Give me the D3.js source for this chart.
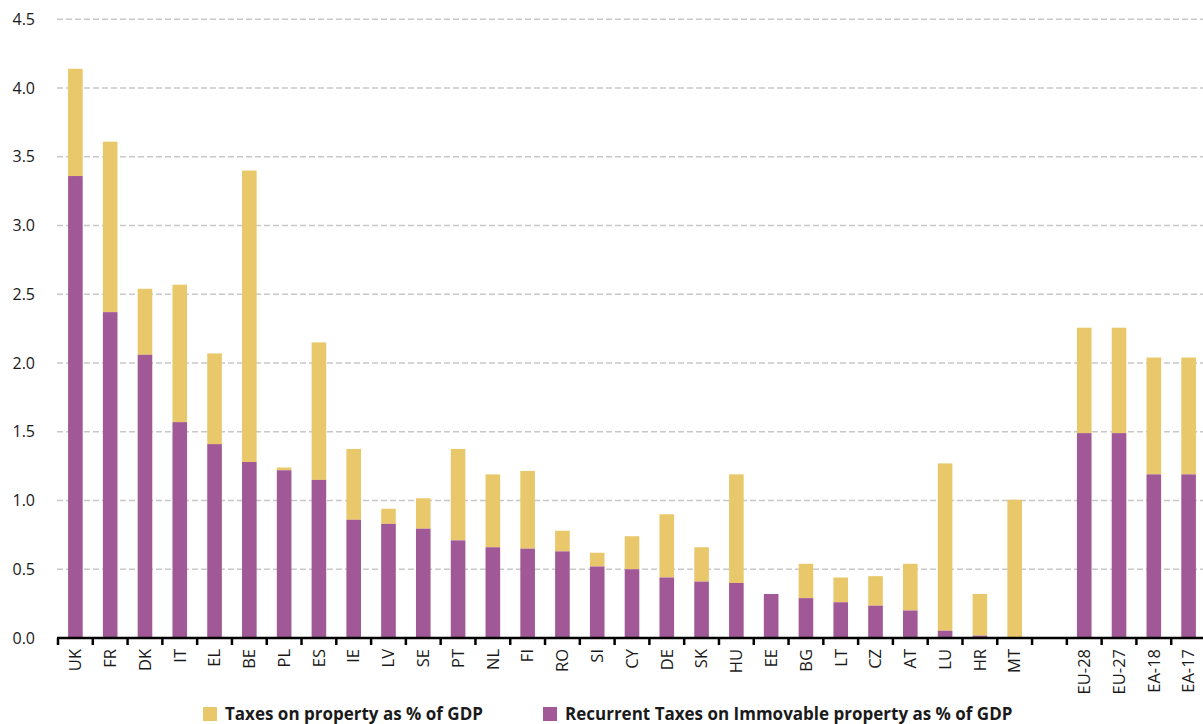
<!DOCTYPE html>
<html>
<head>
<meta charset="utf-8">
<script src="https://cdn.jsdelivr.net/npm/d3@7"></script>
<style>
  body { margin: 0; background: #fff; }
  text { font-family: "Open Sans", "Liberation Sans", sans-serif; fill: #1a1a1a; }
</style>
</head>
<body>
<div id="chart"></div>
<script>
// categories (blank slot separates countries from aggregates)
var countries = ["UK","FR","DK","IT","EL","BE","PL","ES","IE","LV","SE","PT","NL","FI","RO","SI","CY","DE","SK","HU","EE","BG","LT","CZ","AT","LU","HR","MT"," ","EU-28","EU-27","EA-18","EA-17"];

// taxes on property as % of GDP (total bar height)
var propertyTax = [4.14,3.61,2.54,2.57,2.07,3.40,1.24,2.15,1.375,0.94,1.016,1.375,1.19,1.215,0.78,0.62,0.74,0.90,0.66,1.19,0.32,0.54,0.44,0.45,0.54,1.27,0.32,1.006,null,2.257,2.257,2.04,2.04];

// recurrent taxes on immovable property as % of GDP
var recurrentTax = [3.36,2.37,2.06,1.57,1.41,1.28,1.22,1.15,0.86,0.83,0.795,0.71,0.66,0.65,0.63,0.52,0.50,0.44,0.41,0.40,0.32,0.29,0.26,0.235,0.20,0.053,0.017,0,null,1.49,1.49,1.19,1.19];

var yTicks = [0,0.5,1,1.5,2,2.5,3,3.5,4,4.5];
var legendLabels = ["Taxes on property as % of GDP","Recurrent Taxes on Immovable property as % of GDP"];

var colYellow = "#e9c86b", colPurple = "#a05896";

var W = 1203, H = 724;
var svg = d3.select("#chart").append("svg")
    .attr("width", W).attr("height", H);

var x = d3.scaleBand()
    .domain(countries)
    .range([58, 1206])
    .padding(0);

var y = d3.scaleLinear()
    .domain([0, 4.5])
    .range([638, 19.3]);

// dashed grid lines
svg.append("g").selectAll("line")
  .data(yTicks.filter(function(d){ return d > 0; }))
  .enter().append("line")
    .attr("x1", 57).attr("x2", W)
    .attr("y1", function(d){ return y(d); })
    .attr("y2", function(d){ return y(d); })
    .attr("stroke", "#c8c8c8")
    .attr("stroke-width", 1.5)
    .attr("stroke-dasharray", "6,3");

// y tick labels
svg.append("g").selectAll("text")
  .data(yTicks)
  .enter().append("text")
    .attr("x", 35)
    .attr("y", function(d){ return y(d); })
    .attr("dy", "0.35em")
    .attr("text-anchor", "end")
    .style("font-size", "16px")
    .text(function(d){ return d3.format(".1f")(d); });

var rows = countries.map(function(c, i){
  return {c: c, total: propertyTax[i], rec: recurrentTax[i]};
}).filter(function(d){ return d.total !== null; });

var bw = x.bandwidth() * 0.42;
var bars = svg.append("g");

// yellow: full property tax
bars.selectAll(".tot")
  .data(rows)
  .enter().append("rect")
    .attr("class", "tot")
    .attr("x", function(d){ return x(d.c) + (x.bandwidth() - bw) / 2; })
    .attr("width", bw)
    .attr("y", function(d){ return y(d.total); })
    .attr("height", function(d){ return y(d.rec) - y(d.total); })
    .attr("fill", colYellow);

// purple: recurrent part at the bottom
bars.selectAll(".rec")
  .data(rows)
  .enter().append("rect")
    .attr("class", "rec")
    .attr("x", function(d){ return x(d.c) + (x.bandwidth() - bw) / 2; })
    .attr("width", bw)
    .attr("y", function(d){ return y(d.rec); })
    .attr("height", function(d){ return y(0) - y(d.rec); })
    .attr("fill", colPurple);

// x axis: thick line with ticks at band edges
var axis = svg.append("g");
axis.append("line")
    .attr("x1", 57).attr("x2", W)
    .attr("y1", y(0)).attr("y2", y(0))
    .attr("stroke", "#000").attr("stroke-width", 2.5);

var edges = countries.map(function(c){ return x(c); });
axis.selectAll(".tk")
  .data(edges)
  .enter().append("line")
    .attr("x1", function(d){ return d; })
    .attr("x2", function(d){ return d; })
    .attr("y1", y(0)).attr("y2", y(0) + 7)
    .attr("stroke", "#000").attr("stroke-width", 2.5);

axis.selectAll(".lbl")
  .data(countries)
  .enter().append("text")
    .attr("transform", function(d){
      return "translate(" + (x(d) + x.bandwidth() / 2) + "," + (y(0) + 11) + ") rotate(-90)";
    })
    .attr("text-anchor", "end")
    .attr("dy", "0.35em")
    .style("font-size", "16.5px")
    .text(function(d){ return d.trim(); });

// legend
var legX = [203, 543], legCol = [colYellow, colPurple];
var leg = svg.append("g");
legendLabels.forEach(function(l, i){
  leg.append("rect")
    .attr("x", legX[i]).attr("y", 707)
    .attr("width", 14).attr("height", 14)
    .attr("fill", legCol[i]);
  leg.append("text")
    .attr("x", legX[i] + 22).attr("y", 720)
    .style("font-size", "17px")
    .style("font-weight", "bold")
    .text(l);
});
</script>
</body>
</html>
